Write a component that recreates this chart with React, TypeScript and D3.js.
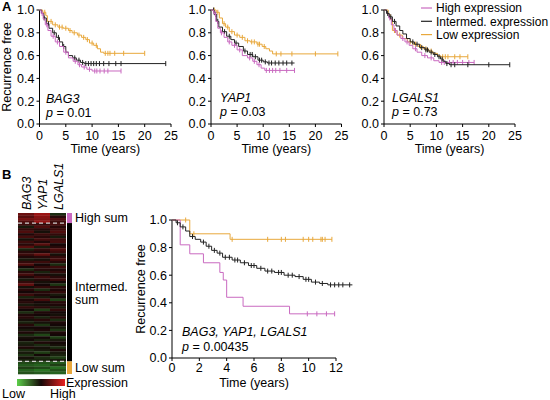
import React from 'react';
import * as d3 from 'd3';

type Step = [number, number];

const HIGH_COLOR = '#c96ac0';
const MID_COLOR = '#222222';
const LOW_COLOR = '#e8a83c';

// ---------- Panel A: BAG3 ----------
const bag3LowSteps: Step[] = [[0,1],[0.6,0.98],[1.2,0.95],[1.5,0.9],[2.5,0.87],[3.5,0.85],[4.5,0.84],[5.5,0.82],[6.2,0.8],[7.2,0.78],[8,0.76],[8.8,0.74],[9.5,0.71],[10.3,0.69],[11,0.66],[11.6,0.63],[12.2,0.62]];
const bag3LowEnd = 20;
const bag3LowCensor = [1.0,2.2,3.0,3.8,4.3,5.0,5.8,6.6,7.5,8.4,9.1,10.0,10.8,12.5,13.0,13.4,14.3,16,20];
const bag3MidSteps: Step[] = [[0,1],[0.4,0.97],[0.8,0.93],[1.3,0.88],[1.8,0.84],[2.5,0.8],[3.2,0.76],[3.8,0.72],[4.4,0.68],[5,0.63],[5.5,0.6],[6.3,0.58],[7,0.56],[7.8,0.54],[8.5,0.53]];
const bag3MidEnd = 24;
const bag3MidCensor = [0.9,1.7,2.8,3.6,4.6,6.7,7.5,8.2,8.8,9.3,9.8,10.3,10.8,11.4,12.2,13.2,14.5,15.5,24];
const bag3HighSteps: Step[] = [[0,1],[0.3,0.97],[0.7,0.92],[1.1,0.87],[1.6,0.82],[2.2,0.77],[3,0.72],[3.8,0.68],[4.6,0.63],[5.5,0.58],[6.4,0.55],[7.3,0.52],[8,0.5],[9,0.48],[10,0.465]];
const bag3HighEnd = 15.5;
const bag3HighCensor = [0.5,1.4,2.6,3.4,5.0,6.8,7.6,8.5,9.5,10.5,10.9,11.5,12.3,13.0,15.5];

// ---------- Panel A: YAP1 ----------
const yap1LowSteps: Step[] = [[0,1],[1.0,0.98],[1.6,0.93],[2.2,0.88],[2.8,0.85],[3.5,0.81],[4.5,0.78],[5.5,0.76],[6.5,0.73],[7.5,0.72],[8.8,0.7],[9.8,0.68],[10.5,0.66],[11.2,0.64],[11.8,0.615]];
const yap1LowEnd = 24.3;
const yap1LowCensor = [0.6,1.3,2.5,3.2,4.0,5.0,6.0,7.0,7.8,8.3,9.0,9.3,10.2,12.5,13.4,15.5,20,24.3];
const yap1MidSteps: Step[] = [[0,1],[0.6,0.96],[1.1,0.9],[1.5,0.85],[2.2,0.81],[3.0,0.77],[3.8,0.74],[4.5,0.71],[5.3,0.68],[6.2,0.64],[7,0.61],[8,0.59],[9,0.56],[10,0.545],[10.8,0.535]];
const yap1MidEnd = 16;
const yap1MidCensor = [0.5,0.9,1.3,2.6,3.5,4.8,6.5,7.5,7.9,8.5,9.3,9.7,10.4,11.1,11.6,12.3,13,13.8,14.5,15.5];
const yap1HighSteps: Step[] = [[0,1],[0.5,0.97],[0.9,0.9],[1.3,0.84],[1.8,0.8],[2.5,0.76],[3.2,0.72],[4,0.69],[5,0.65],[6,0.6],[7,0.58],[8,0.55],[8.8,0.52],[9.6,0.49],[10.3,0.47]];
const yap1HighEnd = 16;
const yap1HighCensor = [0.8,2.0,3.5,4.5,5.5,7.4,8.3,9.2,10.6,11.2,11.8,12.4,13.2,14.5,16];

// ---------- Panel A: LGALS1 ----------
const lgLowSteps: Step[] = [[0,1],[0.8,0.96],[1.2,0.92],[1.6,0.82],[2.5,0.78],[3.5,0.75],[4.5,0.72],[5.5,0.7],[6.5,0.68],[7.5,0.66],[8.5,0.64],[9.3,0.62],[10.2,0.6],[10.8,0.59]];
const lgLowEnd = 16;
const lgLowCensor = [2.0,3.0,5.0,6.0,7.0,8.0,9.0,11.2,11.7,12.2,13.5,14.5,16];
const lgMidSteps: Step[] = [[0,1],[0.5,0.97],[1.0,0.94],[1.6,0.9],[2.3,0.86],[3.0,0.82],[3.6,0.79],[4.3,0.75],[5,0.72],[5.8,0.7],[6.8,0.67],[7.8,0.65],[8.6,0.63],[9.4,0.61],[10.2,0.59],[10.8,0.57],[11.3,0.55],[11.8,0.53],[12.5,0.52]];
const lgMidEnd = 24;
const lgMidCensor = [0.7,1.3,2.0,5.5,6.3,7.2,8.0,8.3,9.0,9.7,10.5,11.1,12.0,12.8,13.5,16,20,24];
const lgHighSteps: Step[] = [[0,1],[0.5,0.97],[0.9,0.93],[1.4,0.87],[1.9,0.82],[2.5,0.78],[3.2,0.75],[4,0.72],[4.8,0.69],[5.5,0.66],[6.3,0.63],[7.2,0.6],[8.3,0.58],[9.5,0.555],[10.5,0.54]];
const lgHighEnd = 17.2;
const lgHighCensor = [1.1,2.2,3.6,4.4,6.0,7.8,9.0,11.0,11.5,12.5,13.2,14,15,16.2,17.2];

// ---------- Panel B: combined ----------
const sumLowSteps: Step[] = [[0,1],[1.3,0.9],[4.25,0.86]];
const sumLowEnd = 11.7;
const sumLowCensor = [1.0,1.6,4.4,7.0,8.0,8.3,9.6,10.0,10.3,10.9,11.0,11.2,11.7];
const sumMidSteps: Step[] = [[0,1],[0.3,0.98],[0.6,0.95],[1.0,0.92],[1.3,0.88],[1.7,0.86],[2.1,0.84],[2.5,0.81],[2.9,0.78],[3.3,0.76],[3.7,0.73],[4.4,0.71],[5.0,0.69],[5.6,0.67],[6.2,0.65],[6.8,0.63],[7.5,0.62],[8.2,0.6],[9.0,0.59],[9.6,0.57],[10.2,0.55],[10.8,0.54],[11.4,0.53]];
const sumMidEnd = 13.2;
const sumMidCensor = [0.4,0.8,1.5,2.3,2.7,3.1,3.5,3.9,4.2,4.6,4.8,5.3,5.8,6.0,6.5,7.0,7.3,7.8,8.0,8.5,8.8,9.3,9.8,10.0,10.5,11.0,11.6,11.9,12.2,12.5,13.0];
const sumHighSteps: Step[] = [[0,1],[0.6,0.82],[1.3,0.755],[2.3,0.69],[3.5,0.62],[3.75,0.565],[4.0,0.44],[5.2,0.375],[8.6,0.32]];
const sumHighEnd = 11.9;
const sumHighCensor = [9.9,10.6,11.3,11.9];

// ---------- Heatmap ----------
const heatGenes = ['BAG3', 'YAP1', 'LGALS1'];
const bag3Heat = [0.45,0.35,0.5,0.3, 0.2,-0.1,0.15,0.3,0.05,0.25,-0.05,0.2,0.1,0.35, -0.15,0.1,0.2,0.05,-0.1,0.15,0.3,0.0,-0.2,0.1, 0.25,0.05,-0.1,0.15,0.4,-0.05,0.1,0.0,0.2,-0.15, 0.05,0.1,-0.1,0.15,0.0,-0.2,0.05,0.1,-0.05,-0.15, 0.1,0.0,-0.1,0.05,-0.2,-0.05,0.0,-0.15,-0.1,0.05, -0.2,-0.1,-0.25,-0.05,-0.15, -0.35,-0.45,-0.3,-0.5,-0.4];
const yap1Heat = [0.7,0.6,0.55,0.65, 0.15,0.3,0.1,-0.05,0.2,0.1,0.25,0.05,0.35,-0.1, 0.15,0.05,0.4,0.1,-0.05,0.2,0.0,0.15,0.1,-0.15, 0.05,0.2,0.1,-0.05,0.0,0.15,-0.2,0.1,0.05,-0.1, 0.25,0.0,-0.05,0.1,-0.3,0.05,0.0,-0.15,0.1,-0.05, -0.25,0.0,0.05,-0.1,-0.35,0.0,-0.15,0.05,-0.2,-0.05, -0.1,-0.3,0.0,-0.2,-0.15, -0.4,-0.5,-0.35,-0.6,-0.45];
const lgals1Heat = [-0.2,0.1,0.3,0.2, 0.25,0.1,0.2,0.3,0.15,-0.1,0.2,0.25,0.0,0.1, 0.3,0.2,-0.05,0.15,0.25,0.1,-0.2,0.2,0.05,0.15, -0.05,0.1,0.2,0.0,-0.25,0.1,0.05,0.15,-0.1,0.0, -0.3,0.1,0.05,-0.1,0.15,0.0,-0.05,0.1,-0.2,0.05, 0.0,-0.1,-0.25,0.05,0.0,-0.3,-0.1,0.0,-0.05,-0.2, 0.05,-0.1,-0.15,-0.3,-0.1, -0.45,-0.3,-0.55,-0.4,-0.5];
const highSumCount = 4;
const lowSumCount = 5;

const legendLabels = ['High expression', 'Intermed. expression', 'Low expression'];
const pValuesA = ['0.01', '0.03', '0.73'];
const xTicksA = [0, 5, 10, 15, 20, 25];
const xTicksB = [0, 2, 4, 6, 8, 10, 12];
const yTicks = [0, 0.2, 0.4, 0.6, 0.8, 1.0];

const FONT = "'Liberation Sans', Arial, Helvetica, sans-serif";
const FS = 12.5;

interface Curve { steps: Step[]; end: number; censor: number[]; color: string }

function survAt(steps: Step[], t: number) {
  let s = steps[0][1];
  for (const [tt, v] of steps) if (tt <= t) s = v;
  return s;
}

interface KMProps {
  left: number; right: number; top: number; bottom: number; xMax: number;
  xTicks: number[]; curves: Curve[]; yLabel?: boolean; yLabelX?: number;
  tickBase: number; titleBase: number; gene: string; geneX: number; geneBase: number; p: string; pBase: number;
}

function KM(props: KMProps) {
  const { left, right, top, bottom, xMax, xTicks, curves } = props;
  const x = d3.scaleLinear().domain([0, xMax]).range([left, right]);
  const y = d3.scaleLinear().domain([0, 1]).range([bottom, top]);
  const line = d3.line<Step>().x(d => x(d[0])).y(d => y(d[1])).curve(d3.curveStepAfter);
  return (
    <g>
      <line x1={left} x2={left} y1={y(0)} y2={y(1)} stroke="#000" strokeWidth={1} />
      <line x1={x(0)} x2={x(xMax)} y1={bottom} y2={bottom} stroke="#000" strokeWidth={1} />
      {yTicks.map(t => (
        <g key={'y' + t}>
          <line x1={left - 3} x2={left} y1={y(t)} y2={y(t)} stroke="#000" />
          <text x={left - 5} y={y(t)} dy="0.35em" textAnchor="end" fontSize={FS}>{t.toFixed(1)}</text>
        </g>
      ))}
      {xTicks.map(t => (
        <g key={'x' + t}>
          <line x1={x(t)} x2={x(t)} y1={bottom} y2={bottom + 3} stroke="#000" />
          <text x={x(t)} y={props.tickBase} textAnchor="middle" fontSize={FS}>{t}</text>
        </g>
      ))}
      <text x={(x(0) + x(xMax)) / 2} y={props.titleBase} textAnchor="middle" fontSize={FS}>Time (years)</text>
      {props.yLabel && (
        <text transform={`translate(${props.yLabelX},${(top + bottom) / 2}) rotate(-90)`} textAnchor="middle" fontSize={FS}>Recurrence free</text>
      )}
      {curves.map((c, i) => {
        const last = c.steps[c.steps.length - 1][1];
        const pts: Step[] = [...c.steps, [c.end, last]];
        return (
          <g key={i}>
            <path d={line(pts) || ''} fill="none" stroke={c.color} strokeWidth={1} />
            {c.censor.map((t, j) => {
              const s = survAt(c.steps, t);
              return <line key={j} x1={x(t)} x2={x(t)} y1={y(s) - 2.5} y2={y(s) + 2.5} stroke={c.color} strokeWidth={1} />;
            })}
          </g>
        );
      })}
      <text x={props.geneX} y={props.geneBase} fontSize={FS} fontStyle="italic">{props.gene}</text>
      <text x={props.geneX} y={props.pBase} fontSize={FS}><tspan fontStyle="italic">p</tspan> = {props.p}</text>
    </g>
  );
}

export default function App() {
  const bag3Curves: Curve[] = [
    { steps: bag3LowSteps, end: bag3LowEnd, censor: bag3LowCensor, color: LOW_COLOR },
    { steps: bag3MidSteps, end: bag3MidEnd, censor: bag3MidCensor, color: MID_COLOR },
    { steps: bag3HighSteps, end: bag3HighEnd, censor: bag3HighCensor, color: HIGH_COLOR },
  ];
  const yap1Curves: Curve[] = [
    { steps: yap1LowSteps, end: yap1LowEnd, censor: yap1LowCensor, color: LOW_COLOR },
    { steps: yap1MidSteps, end: yap1MidEnd, censor: yap1MidCensor, color: MID_COLOR },
    { steps: yap1HighSteps, end: yap1HighEnd, censor: yap1HighCensor, color: HIGH_COLOR },
  ];
  const lgCurves: Curve[] = [
    { steps: lgLowSteps, end: lgLowEnd, censor: lgLowCensor, color: LOW_COLOR },
    { steps: lgHighSteps, end: lgHighEnd, censor: lgHighCensor, color: HIGH_COLOR },
    { steps: lgMidSteps, end: lgMidEnd, censor: lgMidCensor, color: MID_COLOR },
  ];
  const sumCurves: Curve[] = [
    { steps: sumLowSteps, end: sumLowEnd, censor: sumLowCensor, color: LOW_COLOR },
    { steps: sumHighSteps, end: sumHighEnd, censor: sumHighCensor, color: HIGH_COLOR },
    { steps: sumMidSteps, end: sumMidEnd, censor: sumMidCensor, color: MID_COLOR },
  ];

  const heatCols = [bag3Heat, yap1Heat, lgals1Heat];
  const nRows = bag3Heat.length;
  const hx = d3.scaleBand<number>().domain([0, 1, 2]).range([18, 66]);
  const hy = d3.scaleBand<number>().domain(d3.range(nRows)).range([213, 374]);
  const color = d3.scaleLinear<string>().domain([-1.1, 0, 1.1]).range(['#3cd03c', '#140707', '#e81c1c']).clamp(true);
  const rowH = hy.bandwidth();
  const highEdge = hy(highSumCount)!;
  const lowEdge = hy(nRows - lowSumCount)!;

  return (
    <svg width={550} height={400} style={{ position: 'absolute', left: 0, top: 0, fontFamily: FONT }}>
      <rect width={550} height={400} fill="#fff" />
      <text x={2} y={11} fontSize={13} fontWeight="bold">A</text>
      <text x={2} y={179} fontSize={13} fontWeight="bold">B</text>

      <KM left={39.5} right={171} top={10} bottom={124} xMax={25} xTicks={xTicksA} curves={bag3Curves}
        yLabel yLabelX={10.5} tickBase={140} titleBase={153} gene={heatGenes[0]} geneX={46} geneBase={103} p={pValuesA[0]} pBase={117} />
      <KM left={211} right={341.5} top={10} bottom={124} xMax={25} xTicks={xTicksA} curves={yap1Curves}
        tickBase={140} titleBase={153} gene={heatGenes[1]} geneX={220} geneBase={102} p={pValuesA[1]} pBase={116} />
      <KM left={384} right={515} top={10} bottom={124} xMax={25} xTicks={xTicksA} curves={lgCurves}
        tickBase={140} titleBase={153} gene={heatGenes[2]} geneX={392} geneBase={102} p={pValuesA[2]} pBase={116} />

      {legendLabels.map((l, i) => (
        <g key={l}>
          <line x1={421} x2={432} y1={8 + i * 13.3} y2={8 + i * 13.3} stroke={[HIGH_COLOR, MID_COLOR, LOW_COLOR][i]} strokeWidth={1.2} />
          <text x={436} y={8 + i * 13.3} dy="0.35em" fontSize={12}>{l}</text>
        </g>
      ))}

      <KM left={172} right={336} top={220} bottom={358} xMax={12} xTicks={xTicksB} curves={sumCurves}
        yLabel yLabelX={145} tickBase={372} titleBase={387} gene={`${heatGenes[0]}, ${heatGenes[1]}, ${heatGenes[2]}`} geneX={182} geneBase={336} p="0.00435" pBase={351} />

      {heatCols.map((col, ci) => (
        <g key={ci}>
          {col.map((v, ri) => (
            <rect key={ri} x={hx(ci)} y={hy(ri)} width={hx.bandwidth()} height={rowH + 0.3} fill={color(v)} />
          ))}
          <text transform={`translate(${hx(ci)! + hx.bandwidth() / 2 + 5},210) rotate(-90)`} fontSize={FS} fontStyle="italic">{heatGenes[ci]}</text>
        </g>
      ))}
      <line x1={18} x2={66} y1={highEdge} y2={highEdge} stroke="#d0d0d0" strokeWidth={1.2} strokeDasharray="4,3" />
      <line x1={18} x2={66} y1={lowEdge} y2={lowEdge} stroke="#d0d0d0" strokeWidth={1.2} strokeDasharray="4,3" />

      <rect x={67} y={213} width={5} height={highEdge - 213} fill={HIGH_COLOR} />
      <rect x={67} y={highEdge} width={5} height={lowEdge - highEdge} fill="#000" />
      <rect x={67} y={lowEdge} width={5} height={374 - lowEdge} fill={LOW_COLOR} />
      <text x={75} y={222} fontSize={FS}>High sum</text>
      <text x={75} y={291} fontSize={FS}>Intermed.</text>
      <text x={75} y={304} fontSize={FS}>sum</text>
      <text x={75} y={372} fontSize={FS}>Low sum</text>

      <defs>
        <linearGradient id="exprGrad" x1="0" x2="1" y1="0" y2="0">
          <stop offset="0%" stopColor="#5ccf4a" />
          <stop offset="50%" stopColor="#150808" />
          <stop offset="100%" stopColor="#e82020" />
        </linearGradient>
      </defs>
      <rect x={17} y={379} width={48} height={7} fill="url(#exprGrad)" />
      <text x={66} y={387} fontSize={FS}>Expression</text>
      <text x={2} y={398} fontSize={FS}>Low</text>
      <text x={50} y={398} fontSize={FS}>High</text>
    </svg>
  );
}
